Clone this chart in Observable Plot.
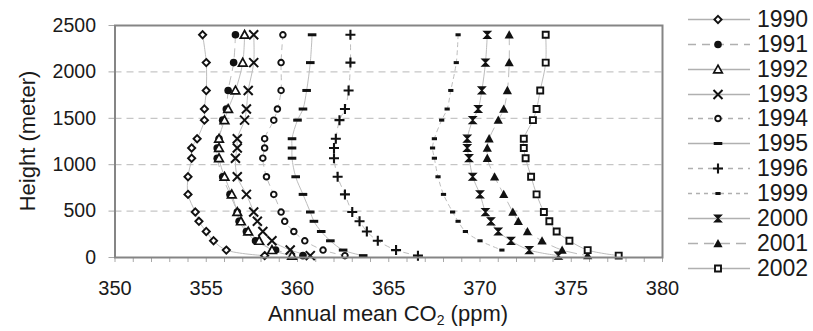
<!DOCTYPE html>
<html><head><meta charset="utf-8">
<script src="https://cdn.jsdelivr.net/npm/d3@7"></script>
<script src="https://cdn.jsdelivr.net/npm/@observablehq/plot@0.6"></script>
<style>
body{margin:0;background:#fff;font-family:"Liberation Sans",Arial,sans-serif;}
#wrap{position:relative;width:813px;height:331px;overflow:hidden;background:#fff;}
#legend{position:absolute;left:0;top:0;}
.item{position:absolute;height:25px;}
.item svg{position:absolute;left:688px;top:0;}
.item span{position:absolute;left:757px;top:0;line-height:25px;font-size:23px;color:#1a1a1a;}
</style></head><body><div id="wrap"></div>
<script>
// ---- data ----
const heights = [2400, 2100, 1800, 1600, 1480, 1280, 1180, 1070, 870, 680, 490, 390, 280, 180, 80, 20];
const years = ["1990", "1991", "1992", "1993", "1994", "1995", "1996", "1999", "2000", "2001", "2002"];
const co2_1990 = [354.8, 355.0, 355.0, 354.9, 354.9, 354.5, 354.2, 354.2, 354.0, 354.0, 354.4, 354.6, 355.0, 355.4, 356.1, 358.2];
const co2_1991 = [356.6, 356.5, 356.2, 356.1, 355.9, 355.7, 355.6, 355.6, 355.9, 356.3, 356.7, 356.8, 357.2, 357.7, 358.8, 360.3];
const co2_1992 = [357.1, 357.0, 356.6, 356.2, 356.0, 355.7, 355.7, 355.7, 356.0, 356.4, 356.7, 356.9, 357.3, 357.9, 358.6, 359.7];
const co2_1993 = [357.6, 357.6, 357.3, 357.2, 357.1, 356.7, 356.7, 356.6, 356.7, 357.2, 357.6, 357.8, 358.1, 358.6, 359.6, 360.7];
const co2_1994 = [359.2, 359.1, 359.1, 358.9, 358.7, 358.2, 358.2, 358.1, 358.3, 358.7, 359.1, 359.3, 359.8, 360.4, 361.4, 362.6];
const co2_1995 = [360.8, 360.7, 360.5, 360.3, 360.0, 359.7, 359.7, 359.7, 359.9, 360.3, 360.7, 360.9, 361.3, 361.8, 362.5, 363.6];
const co2_1996 = [362.9, 362.9, 362.8, 362.6, 362.3, 362.1, 362.0, 362.0, 362.2, 362.6, 363.0, 363.4, 363.8, 364.4, 365.4, 366.6];
const co2_1999 = [368.8, 368.7, 368.4, 368.2, 367.9, 367.5, 367.4, 367.5, 367.7, 368.0, 368.5, 368.8, 369.2, 370.0, 371.2];
const co2_2000 = [370.4, 370.3, 370.1, 369.9, 369.6, 369.3, 369.3, 369.4, 369.6, 370.0, 370.3, 370.6, 371.0, 371.7, 372.7, 374.3];
const co2_2001 = [371.6, 371.6, 371.5, 371.3, 371.0, 370.5, 370.4, 370.4, 370.8, 371.3, 371.8, 372.1, 372.6, 373.4, 374.5, 375.9];
const co2_2002 = [373.6, 373.6, 373.3, 373.1, 372.9, 372.4, 372.4, 372.5, 372.8, 373.1, 373.5, 373.8, 374.2, 374.9, 375.9, 377.6];
const xTicks = [350, 355, 360, 365, 370, 375, 380];
const yTicks = [0, 500, 1000, 1500, 2000, 2500];
const xLabel = "Annual mean CO";
const yLabel = "Height (meter)";

const seriesValues = [co2_1990, co2_1991, co2_1992, co2_1993, co2_1994, co2_1995, co2_1996, co2_1999, co2_2000, co2_2001, co2_2002];

// ---- symbols ----
const R = s => Math.sqrt(s / Math.PI);
const sym = {
  diamond: {draw(c, s) {const r = R(s); c.moveTo(0, -r); c.lineTo(r, 0); c.lineTo(0, r); c.lineTo(-r, 0); c.closePath();}},
  circle: {draw(c, s) {const r = R(s); c.moveTo(r, 0); c.arc(0, 0, r, 0, 2 * Math.PI);}},
  triangle: {draw(c, s) {const r = R(s); c.moveTo(0, -r); c.lineTo(r, r * 0.8); c.lineTo(-r, r * 0.8); c.closePath();}},
  times: {draw(c, s) {const r = R(s); c.moveTo(-r, -r); c.lineTo(r, r); c.moveTo(r, -r); c.lineTo(-r, r);}},
  dash: {draw(c, s) {const r = R(s); c.rect(-r, -1.5, 2 * r, 3);}},
  plus: {draw(c, s) {const r = R(s); c.moveTo(-r, 0); c.lineTo(r, 0); c.moveTo(0, -r); c.lineTo(0, r);}},
  hourglass: {draw(c, s) {const r = R(s); c.moveTo(-r, -r); c.lineTo(r, -r); c.lineTo(-r, r); c.lineTo(r, r); c.closePath();}},
  square: {draw(c, s) {const r = R(s); c.rect(-r, -r, 2 * r, 2 * r);}}
};
const styles = [
  {symbol: sym.diamond, r: 3.6, fill: "white", stroke: "#111", sw: 1.9, dash: null},
  {symbol: sym.circle, r: 3.8, fill: "#111", stroke: "none", sw: 0, dash: "8,6"},
  {symbol: sym.triangle, r: 4.3, fill: "white", stroke: "#111", sw: 1.7, dash: null},
  {symbol: sym.times, r: 4.5, fill: "none", stroke: "#111", sw: 2, dash: null},
  {symbol: sym.circle, r: 2.8, fill: "white", stroke: "#111", sw: 1.9, dash: "5,5"},
  {symbol: sym.dash, r: 4.3, fill: "#111", stroke: "none", sw: 0, dash: null},
  {symbol: sym.plus, r: 5, fill: "none", stroke: "#111", sw: 2.1, dash: "5,5"},
  {symbol: sym.dash, r: 2.6, fill: "#111", stroke: "none", sw: 0, dash: "4,4"},
  {symbol: sym.hourglass, r: 3.5, fill: "#111", stroke: "#111", sw: 1.2, dash: null},
  {symbol: sym.triangle, r: 4.6, fill: "#111", stroke: "none", sw: 0, dash: "10,6"},
  {symbol: sym.square, r: 3, fill: "white", stroke: "#111", sw: 1.9, dash: null}
];

const rows = [];
years.forEach((y, i) => seriesValues[i].forEach((v, j) => rows.push({year: y, height: heights[j], co2: v})));

const lineMarks = years.map((y, i) => Plot.line(rows.filter(d => d.year === y), {
  x: "co2", y: "height", curve: "catmull-rom", stroke: "#bdbdbd", strokeWidth: 1,
  strokeDasharray: styles[i].dash || undefined
}));
const dotMarks = years.map((y, i) => Plot.dot(rows.filter(d => d.year === y), {
  x: "co2", y: "height", symbol: styles[i].symbol, r: styles[i].r,
  fill: styles[i].fill, stroke: styles[i].stroke, strokeWidth: styles[i].sw
}));

const plot = Plot.plot({
  width: 813, height: 331,
  marginLeft: 114.5, marginRight: 151, marginTop: 25, marginBottom: 74,
  x: {domain: [350, 380]},
  y: {domain: [0, 2500]},
  style: {fontFamily: "'Liberation Sans', Arial, sans-serif", fontSize: "19.5px", color: "#1a1a1a", background: "white", overflow: "visible"},
  marks: [
    Plot.gridY(yTicks.filter(t => t > 0 && t < 2500), {stroke: "#b8b8b8", strokeOpacity: 1, strokeDasharray: "7,5"}),
    Plot.axisY({ticks: yTicks, tickSize: 6, tickPadding: 13, stroke: "#a8a8a8", fill: "#1a1a1a", label: null,
      tickFormat: d => String(d)}),
    Plot.axisX({ticks: d3.range(350, 381, 1), tickSize: 5, tickPadding: 18, stroke: "#a8a8a8", fill: "#1a1a1a", label: null,
      fontSize: 20, tickFormat: d => xTicks.includes(d) ? String(d) : ""}),
    ...lineMarks,
    ...dotMarks,
    Plot.frame({stroke: "#858585", strokeWidth: 2})
  ]
});

const wrap = document.getElementById("wrap");
wrap.appendChild(plot);

// axis titles
const svg = d3.select(plot);
const xt = svg.append("text").attr("x", 388).attr("y", 321).attr("text-anchor", "middle")
  .attr("font-size", 22).attr("fill", "#1a1a1a");
xt.append("tspan").text(xLabel);
xt.append("tspan").attr("font-size", 14).attr("dy", 4).text("2");
xt.append("tspan").attr("dy", -4).text(" (ppm)");
svg.append("text").attr("transform", "translate(35,141) rotate(-90)").attr("text-anchor", "middle")
  .attr("font-size", 22).attr("fill", "#1a1a1a").text(yLabel);

// legend
const legend = document.createElement("div");
legend.id = "legend";
wrap.appendChild(legend);
years.forEach((y, i) => {
  const st = styles[i];
  const cy = 19.3 + i * 24.9;
  const item = document.createElement("div");
  item.className = "item";
  item.style.top = (cy - 12.5) + "px";
  item.style.left = "0px";
  item.style.width = "813px";
  const s = d3.create("svg").attr("width", 64).attr("height", 25);
  s.append("line").attr("x1", 0).attr("x2", 62).attr("y1", 12.5).attr("y2", 12.5)
    .attr("stroke", "#b0b0b0").attr("stroke-width", 1.3).attr("stroke-dasharray", st.dash);
  s.append("path").attr("transform", "translate(30,12.5)")
    .attr("d", d3.symbol(st.symbol, st.r * st.r * Math.PI)())
    .attr("fill", st.fill).attr("stroke", st.stroke).attr("stroke-width", st.sw);
  item.appendChild(s.node());
  const span = document.createElement("span");
  span.textContent = y;
  item.appendChild(span);
  legend.appendChild(item);
});
</script></body></html>
